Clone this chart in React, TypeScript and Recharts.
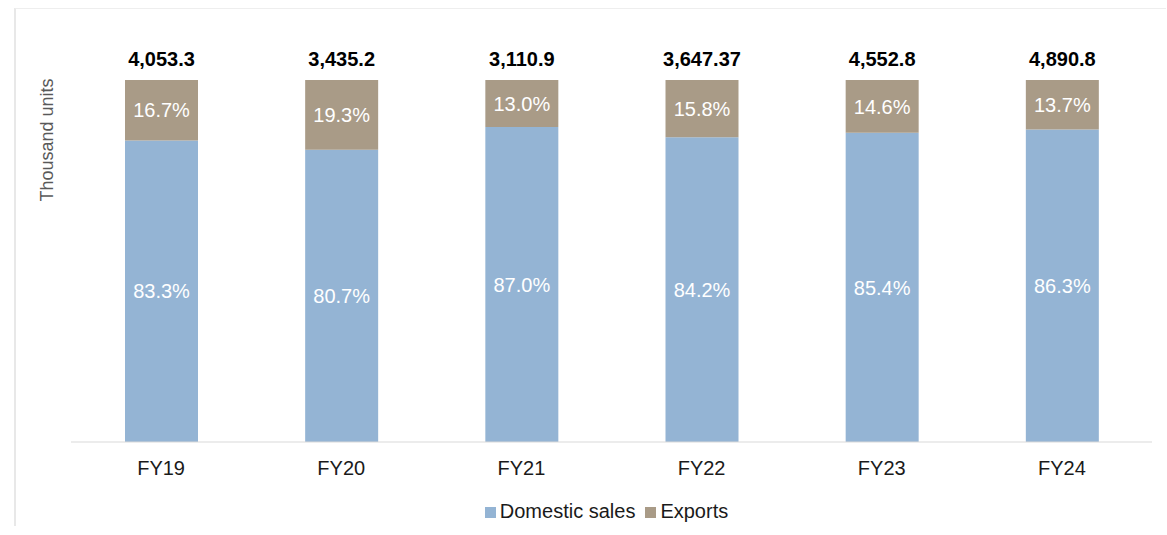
import { BarChart, Bar, XAxis, YAxis, Legend, LabelList } from 'recharts'

const years = ['FY19', 'FY20', 'FY21', 'FY22', 'FY23', 'FY24']
const domesticShare = [83.3, 80.7, 87.0, 84.2, 85.4, 86.3]
const exportShare = [16.7, 19.3, 13.0, 15.8, 14.6, 13.7]
const totals = ['4,053.3', '3,435.2', '3,110.9', '3,647.37', '4,552.8', '4,890.8']

const data = years.map((year, i) => ({
  year,
  domestic: domesticShare[i],
  exports: exportShare[i],
  total: totals[i],
}))

const font = '"Liberation Sans", Arial, sans-serif'
const pct = (v: unknown) => (typeof v === 'number' ? `${v.toFixed(1)}%` : '')

export default function App() {
  return (
    <div style={{ position: 'absolute', left: 0, top: 0, width: 1167, height: 535, background: '#fff', fontFamily: font }}>
      <div style={{ position: 'absolute', left: 14, top: 8, width: 1150, height: 517, borderLeft: '2px solid #e8e8e8', borderTop: '1px solid #eeeeee' }} />
      <div
        style={{
          position: 'absolute',
          left: 47,
          top: 140,
          transform: 'translate(-50%, -50%) rotate(-90deg)',
          whiteSpace: 'nowrap',
          fontSize: 18,
          color: '#595959',
        }}
      >
        Thousand units
      </div>
      <BarChart width={1167} height={535} data={data} margin={{ top: 80, right: 15, left: 71, bottom: 40 }} barSize={73}>
        <XAxis
          dataKey="year"
          axisLine={{ stroke: '#d9d9d9' }}
          tickLine={false}
          tickMargin={13}
          tick={{ fill: '#1a1a1a', fontSize: 20, fontFamily: font }}
        />
        <YAxis hide domain={[0, 100]} />
        <Legend
          verticalAlign="bottom"
          iconType="square"
          iconSize={11}
          wrapperStyle={{ bottom: 12, fontSize: 20, fontFamily: font }}
          formatter={(value) => <span style={{ color: '#1a1a1a' }}>{value}</span>}
        />
        <Bar dataKey="domestic" name="Domestic sales" stackId="a" fill="#94b4d4" isAnimationActive={false}>
          <LabelList dataKey="domestic" position="center" formatter={pct} fill="#ffffff" fontSize={20} fontFamily={font} />
        </Bar>
        <Bar dataKey="exports" name="Exports" stackId="a" fill="#a99b87" isAnimationActive={false}>
          <LabelList dataKey="exports" position="center" formatter={pct} fill="#ffffff" fontSize={20} fontFamily={font} />
          <LabelList dataKey="total" position="top" offset={14} fill="#000000" fontSize={20} fontWeight="bold" fontFamily={font} />
        </Bar>
      </BarChart>
    </div>
  )
}
